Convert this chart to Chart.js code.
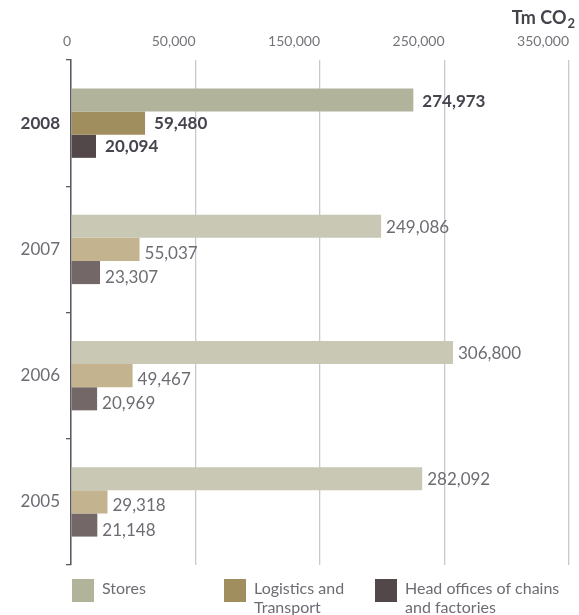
<!DOCTYPE html>
<html>
<head>
<meta charset="utf-8">
<style>
  html, body { margin: 0; padding: 0; background: #ffffff; }
  #wrap { position: relative; width: 579px; height: 615px; }
</style>
<script src="https://cdn.jsdelivr.net/npm/chart.js@4/dist/chart.umd.min.js"></script>
</head>
<body>
<div id="wrap"><canvas id="c" width="579" height="615"></canvas></div>
<script>
// Emissions by activity, tonnes of CO2
const years = ['2008', '2007', '2006', '2005'];
const stores = [274973, 249086, 306800, 282092];
const logistics = [59480, 55037, 49467, 29318];
const headOffices = [20094, 23307, 20969, 21148];
const seriesNames = [['Stores'], ['Logistics and', 'Transport'], ['Head offices of chains', 'and factories']];
const axisLabels = ['0', '50,000', '150,000', '250,000', '350,000'];
const unitMain = 'Tm CO';
const unitSub = '2';

const FONT = 'Lato, "Open Sans", sans-serif';
const TEXT_DARK = '#47434d';
const TEXT_GREY = '#6f6b73';
// first palette is the current year, second the earlier years
const currentColors = ['#b2b39b', '#a08e5f', '#524849'];
const pastColors = ['#c8c8b4', '#c4b38f', '#736867'];
// vertical nudge of value labels per series (current year / earlier years)
const labelNudgeCurrent = [2, 0, 0];
const labelNudgePast = [1, 4, 5];

const seriesValues = [stores, logistics, headOffices];

const datasets = seriesValues.map((vals, s) => ({
  label: seriesNames[s].join(' '),
  data: vals,
  backgroundColor: vals.map((v, i) => i === 0 ? currentColors[s] : pastColors[s]),
  borderWidth: 0,
  barPercentage: 1.0,
  categoryPercentage: 0.55
}));

// value labels at the end of each bar
const valueLabels = {
  id: 'valueLabels',
  afterDatasetsDraw(chart) {
    const ctx = chart.ctx;
    ctx.save();
    chart.data.datasets.forEach((ds, di) => {
      const meta = chart.getDatasetMeta(di);
      meta.data.forEach((bar, i) => {
        const cur = i === 0;
        ctx.font = (cur ? 'bold ' : '') + '17px ' + FONT;
        ctx.fillStyle = cur ? TEXT_DARK : TEXT_GREY;
        ctx.textAlign = 'left';
        ctx.textBaseline = 'middle';
        const dy = cur ? labelNudgeCurrent[di] : labelNudgePast[di];
        ctx.fillText(ds.data[i].toLocaleString('en-US'), bar.x + (cur ? 9 : 5), bar.y + dy);
      });
    });
    ctx.restore();
  }
};

// unit caption with subscript, top right
const unitCaption = {
  id: 'unitCaption',
  afterDraw(chart) {
    const ctx = chart.ctx;
    ctx.save();
    ctx.fillStyle = TEXT_DARK;
    ctx.textBaseline = 'alphabetic';
    ctx.textAlign = 'left';
    ctx.font = 'bold 13px ' + FONT;
    const wSub = ctx.measureText(unitSub).width;
    ctx.font = 'bold 18px ' + FONT;
    const wMain = ctx.measureText(unitMain).width;
    const right = 575;
    const x0 = right - wSub - wMain - 1;
    ctx.fillText(unitMain, x0, 24);
    ctx.font = 'bold 13px ' + FONT;
    ctx.fillText(unitSub, x0 + wMain + 1, 28);
    ctx.restore();
  }
};

// legend below the plot
const bottomLegend = {
  id: 'bottomLegend',
  afterDraw(chart) {
    const ctx = chart.ctx;
    const xs = [72, 224, 375];
    ctx.save();
    ctx.font = '16px ' + FONT;
    ctx.textAlign = 'left';
    ctx.textBaseline = 'middle';
    seriesNames.forEach((lines, s) => {
      ctx.fillStyle = currentColors[s];
      ctx.fillRect(xs[s], 579, 22, 23);
      ctx.fillStyle = TEXT_GREY;
      lines.forEach((t, li) => ctx.fillText(t, xs[s] + 30, 589 + li * 19));
    });
    ctx.restore();
  }
};

new Chart(document.getElementById('c'), {
  type: 'bar',
  data: { labels: years, datasets },
  options: {
    indexAxis: 'y',
    responsive: false,
    animation: false,
    layout: { padding: { left: 0, right: 9, top: 0, bottom: 50 } },
    plugins: { legend: { display: false }, tooltip: { enabled: false } },
    scales: {
      x: {
        position: 'top',
        min: 0,
        max: 400000,
        ticks: {
          stepSize: 100000,
          align: 'end',
          padding: 10,
          color: '#77737b',
          font: { family: FONT, size: 14 },
          callback: (v, i) => axisLabels[i]
        },
        grid: { color: '#c9c8cf', lineWidth: 1.3, drawTicks: false },
        border: { display: false },
        afterFit(scale) { scale.height = 60; }
      },
      y: {
        ticks: {
          padding: 6,
          color: (c) => c.index === 0 ? TEXT_DARK : TEXT_GREY,
          font: (c) => ({ family: FONT, size: 17, weight: c.index === 0 ? 'bold' : 'normal' })
        },
        grid: { drawOnChartArea: false, offset: true, tickLength: 5, color: '#5d5962', lineWidth: 1.3 },
        border: { color: '#5d5962', width: 1.5 },
        afterFit(scale) { scale.width = 71; }
      }
    }
  },
  plugins: [valueLabels, unitCaption, bottomLegend]
});
</script>
</body>
</html>
